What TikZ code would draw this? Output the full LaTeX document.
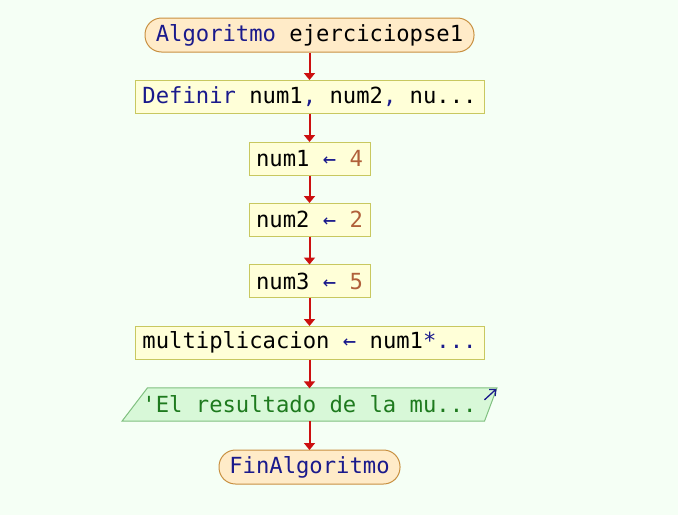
\documentclass[tikz,border=0pt]{standalone}
\usepackage{fontspec}
\setmonofont{DejaVu Sans Mono}
\usetikzlibrary{arrows.meta}
\definecolor{bgcol}{HTML}{F5FFF5}
\definecolor{kw}{HTML}{1A1A8C}
\definecolor{numcol}{HTML}{B0603A}
\definecolor{strcol}{HTML}{1E7A1E}
\definecolor{termfill}{HTML}{FFEBC8}
\definecolor{termline}{HTML}{C89040}
\definecolor{procfill}{HTML}{FFFFD8}
\definecolor{procline}{HTML}{C8C860}
\definecolor{iofill}{HTML}{D8F8D8}
\definecolor{ioline}{HTML}{80C080}
\definecolor{flowcol}{HTML}{CC1010}
\tikzset{
  base/.style={inner sep=0pt, font=\ttfamily\fontsize{22.2}{26}\selectfont, text=black},
  term/.style={base, draw=termline, fill=termfill, line width=1pt, rounded corners=16.5pt, minimum height=34pt},
  proc/.style={base, draw=procline, fill=procfill, line width=1pt, minimum height=33pt},
  io/.style={base, minimum height=33pt},
  flow/.style={draw=flowcol, line width=2pt, -{Triangle[length=7pt,width=11pt]}, shorten >=-0.5pt},
}
\begin{document}
\begin{tikzpicture}[x=1pt,y=1pt]
  \fill[bgcol] (0,0) rectangle (678,-515);
  \useasboundingbox (0,0) rectangle (678,-515);

  \node[term, minimum width=329pt] (start) at (309.5,-35) {\textcolor{kw}{Algoritmo} ejerciciopse1};
  \node[proc, minimum width=349pt] (def) at (309.5,-96.5) {\textcolor{kw}{Definir} num1\textcolor{kw}{,} num2\textcolor{kw}{,} nu...};
  \node[proc, minimum width=121pt] (a1) at (309.5,-158.5) {num1 \textcolor{kw}{←} \textcolor{numcol}{4}};
  \node[proc, minimum width=121pt] (a2) at (309.5,-219.5) {num2 \textcolor{kw}{←} \textcolor{numcol}{2}};
  \node[proc, minimum width=121pt] (a3) at (309.5,-281) {num3 \textcolor{kw}{←} \textcolor{numcol}{5}};
  \node[proc, minimum width=349pt] (mult) at (309.5,-342.5) {multiplicacion \textcolor{kw}{←} num1\textcolor{kw}{*...}};

  % output block: parallelogram drawn around a plain node
  \node[io, minimum width=350pt] (out) at (309.5,-404.5) {};
  \draw[draw=ioline, fill=iofill, line width=1pt]
    ([xshift=-162pt]out.north) -- ([xshift=187.5pt]out.north)
    -- ([xshift=175pt]out.south) -- ([xshift=-187.5pt]out.south) -- cycle;
  \node[base, text=strcol] at (out) {'El resultado de la mu...};
  \draw[kw, line width=1.3pt, -{Straight Barb[length=5pt,width=9pt]}]
    ([xshift=175pt,yshift=-12pt]out.north) -- ([xshift=187pt,yshift=-1pt]out.north);

  \node[term, minimum width=181pt] (fin) at (309.5,-467) {\textcolor{kw}{FinAlgoritmo}};

  \draw[flow] (start) -- (def);
  \draw[flow] (def) -- (a1);
  \draw[flow] (a1) -- (a2);
  \draw[flow] (a2) -- (a3);
  \draw[flow] (a3) -- (mult);
  \draw[flow] (mult) -- (out);
  \draw[flow] (out) -- (fin);
\end{tikzpicture}
\end{document}
